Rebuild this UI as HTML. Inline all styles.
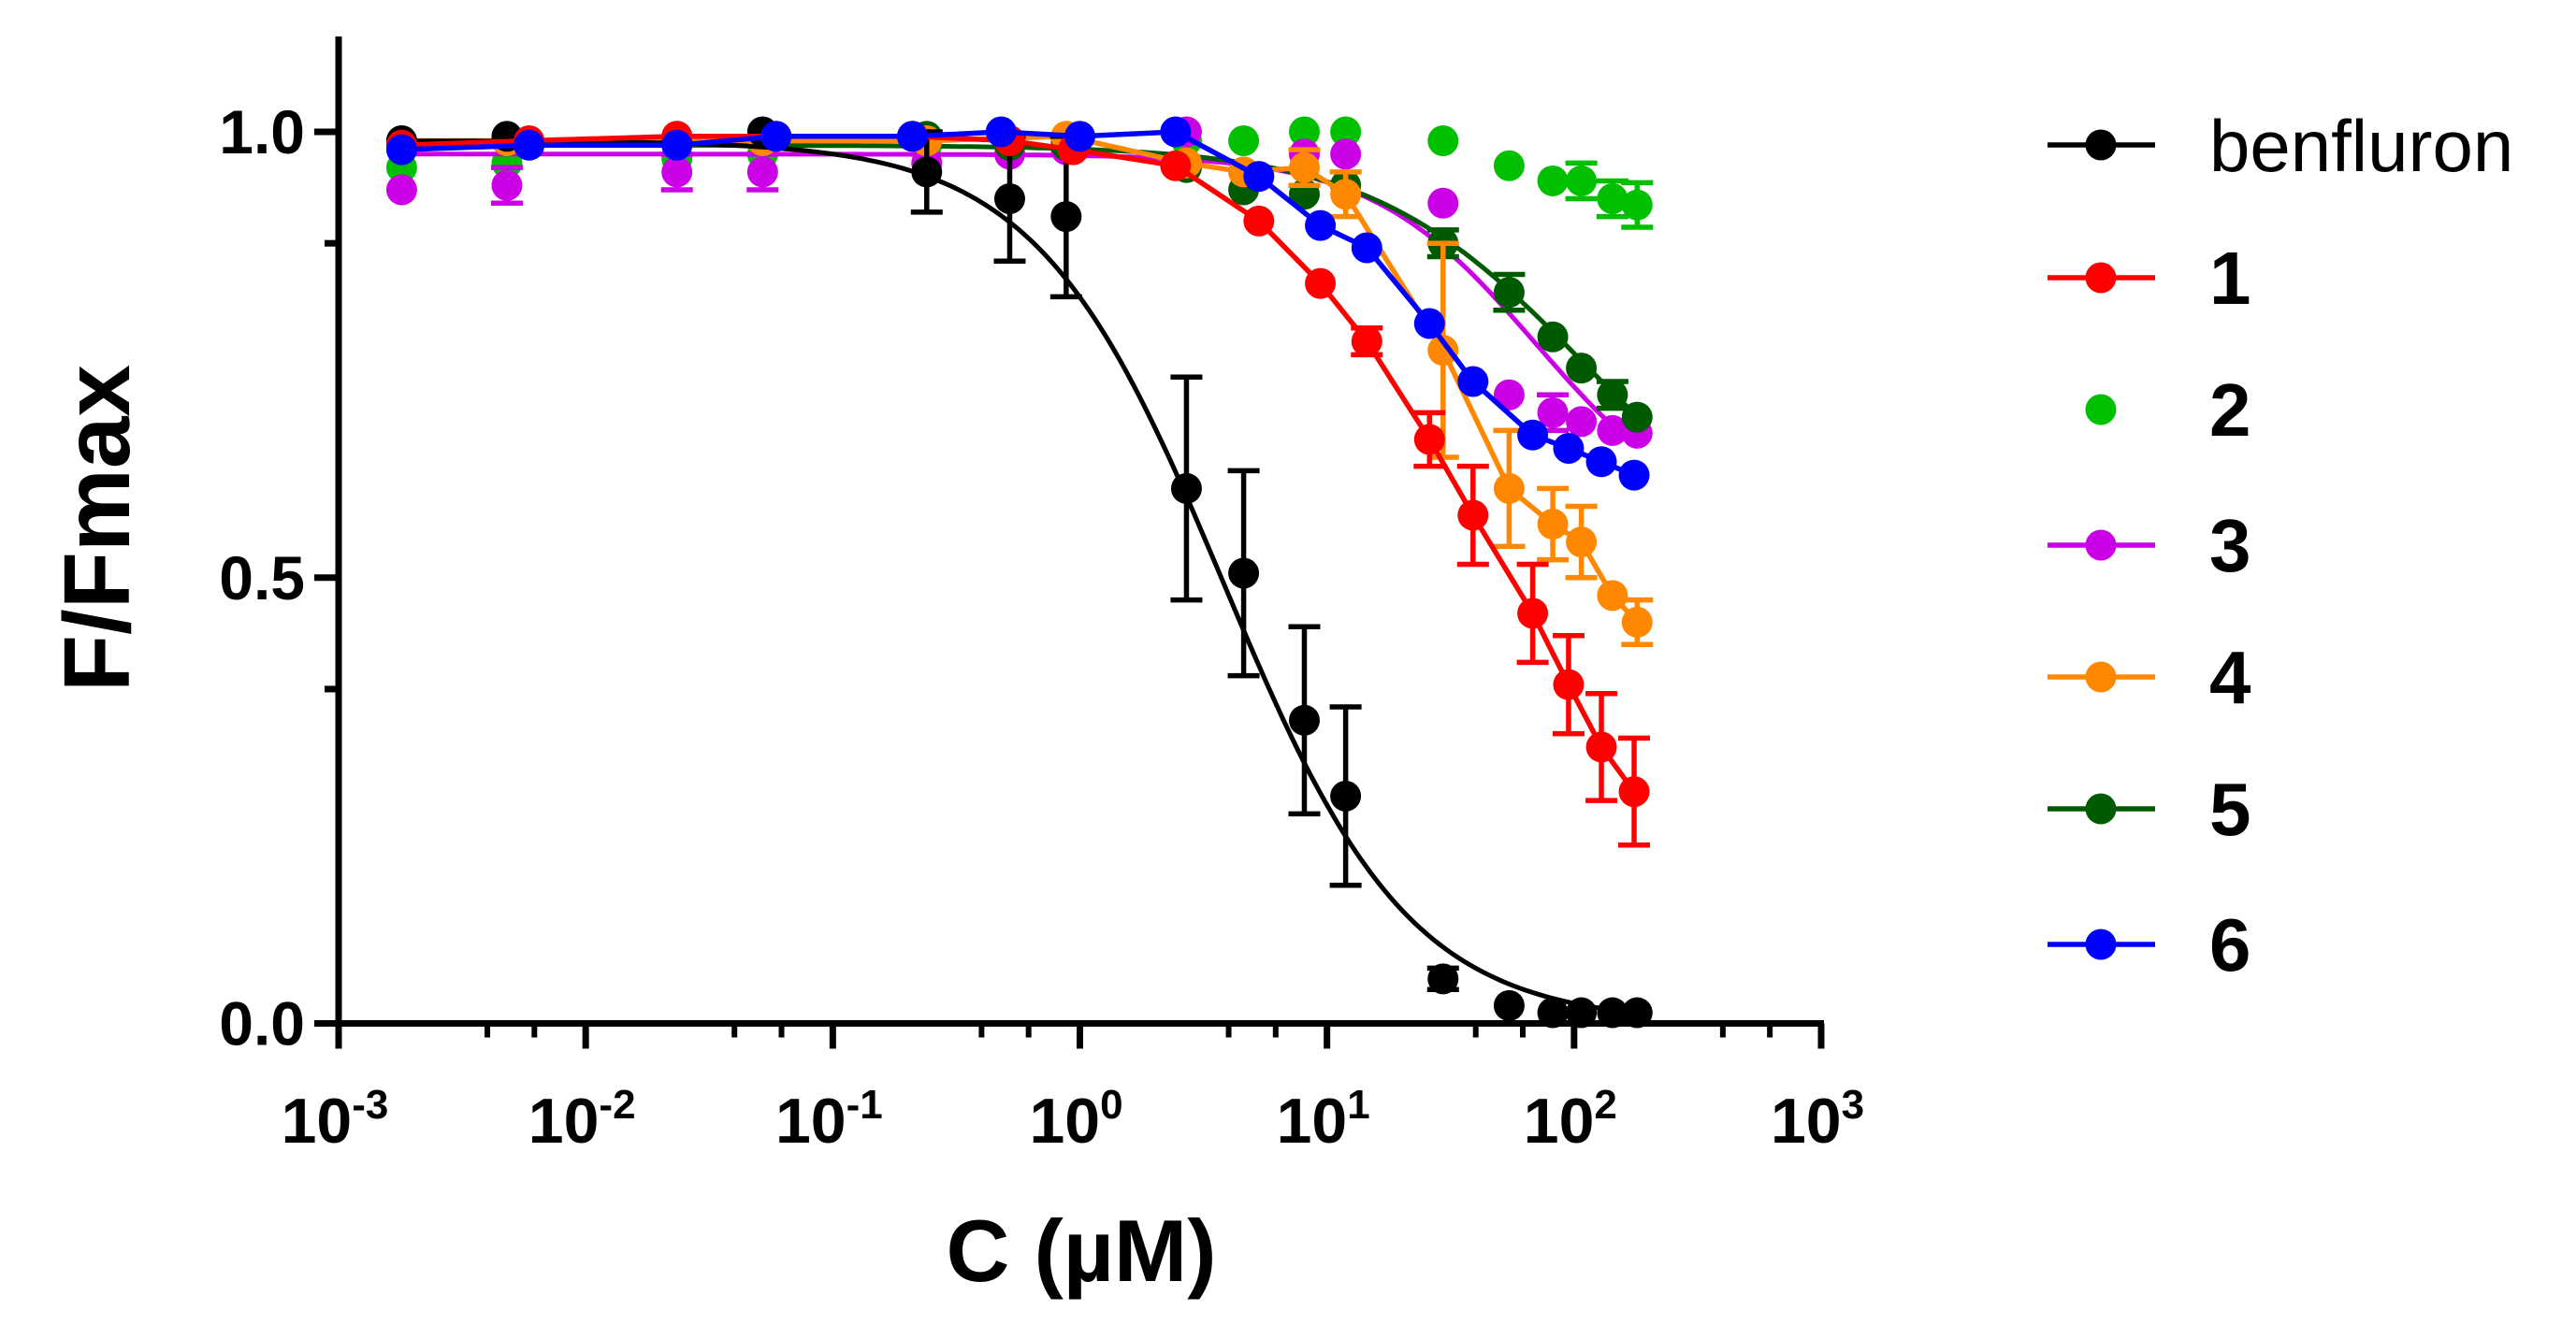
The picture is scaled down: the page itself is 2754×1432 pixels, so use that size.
<!DOCTYPE html>
<html><head><meta charset="utf-8"><style>
html,body{margin:0;padding:0;background:#fff}
svg{display:block;font-family:"Liberation Sans",Arial,sans-serif}
</style></head><body>
<svg id="chart" width="2754" height="1432" viewBox="0 0 2754 1432" xmlns="http://www.w3.org/2000/svg">
<g id="axes"></g>
<g id="plot"></g>
<g id="legend"></g>
</svg>
<script>
// ---- data ----
const xBlack = [0.0018,0.0048,0.0234,0.052,0.24,0.52,0.88,2.7,4.6,8.1,11.9,29.5,54.6,82,107,143,180];
const yBlack = [0.99,0.995,0.99,1.0,0.955,0.925,0.905,0.6,0.505,0.34,0.255,0.05,0.02,0.012,0.012,0.012,0.012];
const eBlack = [0,0,0,0,0.045,0.07,0.09,0.125,0.115,0.105,0.1,0.012,0,0,0,0,0];
const fitBlack = [0.99,0.0,3.8,1.15]; // top, bottom, IC50, hill

const xRed = [0.0018,0.0059,0.0234,0.059,0.21,0.52,0.94,2.44,5.3,9.4,14.5,26,39,68,95,129,175];
const yRed = [0.985,0.99,0.995,0.995,0.995,0.99,0.98,0.962,0.9,0.83,0.765,0.655,0.57,0.46,0.38,0.31,0.26];
const eRed = [0,0,0,0,0,0,0,0,0,0,0.015,0.03,0.055,0.055,0.055,0.06,0.06];

const xGreen = [0.0018,0.0048,0.0234,0.052,0.24,0.52,0.88,2.7,4.6,8.1,11.9,29.5,54.6,82,107,143,180];
const yGreen = [0.96,0.965,0.97,0.975,0.985,0.985,0.99,0.99,0.99,1.0,1.0,0.99,0.962,0.945,0.945,0.925,0.918];
const eGreen = [0,0,0,0,0,0,0,0,0,0,0,0,0,0,0.02,0.02,0.025];

const xMag = [0.0018,0.0048,0.0234,0.052,0.24,0.52,0.88,2.7,8.1,11.9,29.5,54.6,82,107,143,180];
const yMag = [0.935,0.94,0.955,0.955,0.965,0.975,0.98,1.0,0.975,0.975,0.92,0.705,0.685,0.675,0.665,0.662];
const eMag = [0,0.02,0.02,0.02,0,0,0,0,0,0,0,0,0.02,0,0,0];
const fitMag = [0.975,0.55,70,1.3];

const xOr = [0.0018,0.0048,0.0234,0.052,0.24,0.88,2.7,4.6,8.1,11.9,29.5,54.6,82,107,143,180];
const yOr = [0.99,0.99,0.99,0.99,0.99,0.995,0.965,0.955,0.96,0.93,0.755,0.6,0.56,0.54,0.48,0.45];
const eOr = [0,0,0,0,0,0,0,0,0.02,0.025,0.12,0.065,0.04,0.04,0,0.025];

const xDg = [0.0018,0.0048,0.0234,0.052,0.24,0.52,0.88,2.7,4.6,8.1,11.9,29.5,54.6,82,107,143,180];
const yDg = [0.99,0.99,0.995,0.99,0.995,0.985,0.985,0.96,0.935,0.93,0.94,0.875,0.82,0.77,0.735,0.705,0.68];
const eDg = [0,0,0,0,0,0,0,0,0,0,0,0.015,0.02,0,0,0.015,0];
const fitDg = [0.985,0.495,110,1.0];

const xBlue = [0.0018,0.0059,0.0234,0.059,0.21,0.48,1.0,2.44,5.3,9.4,14.5,26,39,68,95,129,175];
const yBlue = [0.98,0.985,0.985,0.995,0.995,1.0,0.995,1.0,0.95,0.895,0.87,0.785,0.72,0.66,0.645,0.63,0.615];

const legendLabels = ["benfluron","1","2","3","4","5","6"];
const yTicks = [0.0,0.5,1.0];
const yTickLabels = ["0.0","0.5","1.0"];
const yMinor = [0.375,0.875];
const xExps = [-3,-2,-1,0,1,2,3];
const xExpLabels = ["-3","-2","-1","0","1","2","3"];

// ---- scales ----
const X0=362, X1=1947, Y0=1094.5, Y1=141;
function X(c){return X0+(Math.log10(c)+3)*(X1-X0)/6;}
function Y(v){return Y0-v*(Y0-Y1);}
const NS="http://www.w3.org/2000/svg";
function mk(tag,attrs,parent){const e=document.createElementNS(NS,tag);for(const k in attrs)e.setAttribute(k,attrs[k]);parent.appendChild(e);return e;}
const axes=document.getElementById('axes'),plot=document.getElementById('plot'),leg=document.getElementById('legend');

// axes
let e;
e=mk('line',{x1:X0,y1:39,x2:X0,y2:Y0+3,stroke:'#000','stroke-width':7},axes);


e=mk('line',{x1:X0-3,y1:Y0,x2:X1+3,y2:Y0,stroke:'#000','stroke-width':7},axes);


yTicks.forEach((v,i)=>{
  e=mk('line',{x1:X0-26,y1:Y(v),x2:X0,y2:Y(v),stroke:'#000','stroke-width':7},axes);
  
  
  e=mk('text',{x:X0-36,y:Y(v)+23,'text-anchor':'end','font-size':66,'font-weight':'bold'},axes);
  e.textContent=yTickLabels[i];
  
  
});
yMinor.forEach(v=>{
  e=mk('line',{x1:X0-15,y1:Y(v),x2:X0,y2:Y(v),stroke:'#000','stroke-width':7},axes);
  
  
});
xExps.forEach((p,i)=>{
  const x=X(Math.pow(10,p));
  e=mk('line',{x1:x,y1:Y0,x2:x,y2:Y0+27,stroke:'#000','stroke-width':7},axes);
  
  
  e=mk('text',{x:x-4,y:1222,'text-anchor':'middle','font-size':68,'font-weight':'bold'},axes);
  
  
  const t1=mk('tspan',{},e);t1.textContent='10';
  const t2=mk('tspan',{dy:-26,'font-size':44},e);t2.textContent=xExpLabels[i];
  if(p<3){[4,6.2].forEach(m=>{
    e=mk('line',{x1:X(m*Math.pow(10,p)),y1:Y0,x2:X(m*Math.pow(10,p)),y2:Y0+15,stroke:'#000','stroke-width':6},axes);
    
    
  });}
});
e=mk('text',{x:1156,y:1370,'text-anchor':'middle','font-size':94,'font-weight':'bold'},axes);
e.textContent='C (µM)';


e=mk('text',{x:0,y:0,'text-anchor':'middle','font-size':100,'font-weight':'bold',transform:'translate(138,565) rotate(-90)'},axes);
e.textContent='F/Fmax';



// series helpers
function fitPath(p,xmin,xmax){
  let d='';
  for(let i=0;i<=200;i++){
    const lc=Math.log10(xmin)+(Math.log10(xmax)-Math.log10(xmin))*i/200;
    const c=Math.pow(10,lc);
    const v=p[1]+(p[0]-p[1])/(1+Math.pow(c/p[2],p[3]));
    d+=(i?'L':'M')+X(c).toFixed(1)+','+Y(v).toFixed(1);
  }
  return d;
}
function drawSeries(name,color,xs,ys,es,mode,fit){
  const g=mk('g',{},plot);
  
  
  if(mode==='fit'){
    e=mk('path',{d:fitPath(fit,xs[0],xs[xs.length-1]),fill:'none',stroke:color,'stroke-width':5},g);
    
    
  } else if(mode==='line'){
    e=mk('polyline',{points:xs.map((x,i)=>X(x)+','+Y(ys[i])).join(' '),fill:'none',stroke:color,'stroke-width':5.5},g);
    
    
  }
  xs.forEach((x,i)=>{
    const cx=X(x),cy=Y(ys[i]);
    const er=es?es[i]:0;
    if(er>0){
      const t=Y(ys[i]+er),b=Y(ys[i]-er);
      e=mk('path',{d:`M${cx},${t}L${cx},${b}M${cx-17},${t}L${cx+17},${t}M${cx-17},${b}L${cx+17},${b}`,stroke:color,'stroke-width':5.5,fill:'none'},g);
      
      
    }
    e=mk('circle',{cx:cx,cy:cy,r:16.5,fill:color},g);
    
    
  });
}
const C={benfluron:'#000000',s1:'#ff0000',s2:'#00c000',s3:'#cc00e6',s4:'#ff8800',s5:'#005a00',s6:'#0000ff'};
drawSeries('compound-2',C.s2,xGreen,yGreen,eGreen,'none');
drawSeries('compound-3',C.s3,xMag,yMag,eMag,'fit',fitMag);
drawSeries('compound-5',C.s5,xDg,yDg,eDg,'fit',fitDg);
drawSeries('compound-4',C.s4,xOr,yOr,eOr,'line');
drawSeries('benfluron',C.benfluron,xBlack,yBlack,eBlack,'fit',fitBlack);
drawSeries('compound-1',C.s1,xRed,yRed,eRed,'line');
drawSeries('compound-6',C.s6,xBlue,yBlue,null,'line');

// legend
const legColors=[C.benfluron,C.s1,C.s2,C.s3,C.s4,C.s5,C.s6];
const legY=[155,297,438,583,724,865,1010];
legendLabels.forEach((lab,i)=>{
  const g=mk('g',{},leg);
  
  
  if(i!==2){mk('line',{x1:2189,y1:legY[i],x2:2304,y2:legY[i],stroke:legColors[i],'stroke-width':5.5},g);}
  mk('circle',{cx:2246,cy:legY[i],r:16.5,fill:legColors[i]},g);
  e=mk('text',{x:2362,y:legY[i]+28,'font-size':i===0?78:80,'font-weight':i===0?'normal':'bold'},g);
  e.textContent=lab;
  
  
});
</script>
</body></html>
